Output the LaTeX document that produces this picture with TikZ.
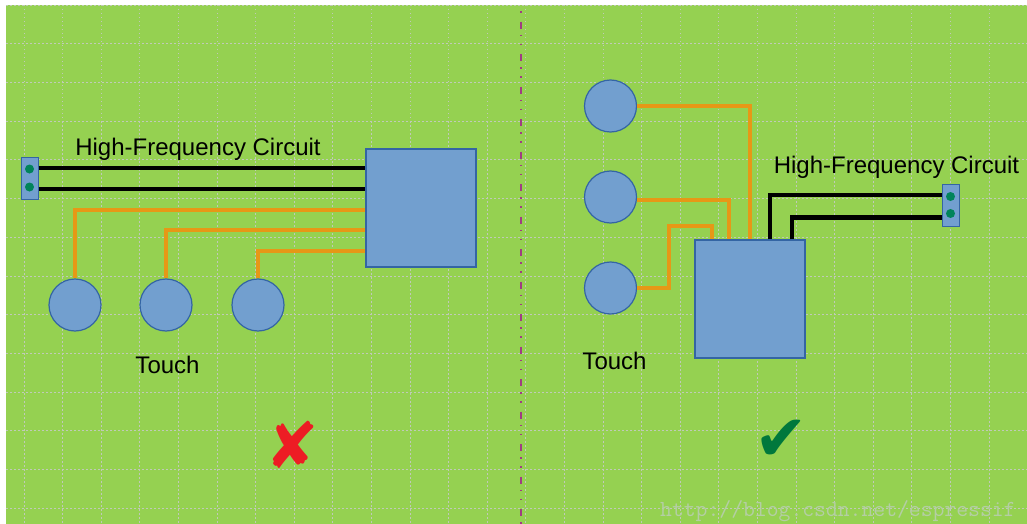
\documentclass[tikz,border=0pt]{standalone}
\usepackage{fontspec}
\setmainfont{Liberation Sans}
\newfontfamily\symfont{DejaVu Sans}
\definecolor{bggreen}{RGB}{149,209,81}
\definecolor{boxfill}{RGB}{114,159,207}
\definecolor{boxline}{RGB}{52,101,164}
\definecolor{wireor}{RGB}{230,152,22}
\definecolor{dotgreen}{RGB}{0,132,90}
\definecolor{gridgray}{RGB}{192,202,184}
\definecolor{divider}{RGB}{160,60,130}
\definecolor{xred}{RGB}{237,28,36}
\definecolor{checkgreen}{RGB}{0,120,60}
\definecolor{wmgray}{RGB}{180,206,164}
\begin{document}
\begin{tikzpicture}[x=1pt,y=-1pt,
  chip/.style={draw=boxline, line width=1.5pt, fill=boxfill, inner sep=0pt, minimum width=110pt, minimum height=118pt},
  pad/.style={circle, draw=boxline, line width=1.2pt, fill=boxfill, minimum size=52pt, inner sep=0pt},
  header/.style={draw=boxline, line width=1pt, fill=boxfill, inner sep=0pt, minimum width=17pt, minimum height=42pt},
  pin/.style={circle, fill=dotgreen, minimum size=9pt, inner sep=0pt},
  hfwire/.style={line width=4.6pt, black},
  touchwire/.style={line width=4pt, wireor},
  gridline/.style={gridgray, line width=0.8pt, dash pattern=on 1.5pt off 2.5pt},
  lbl/.style={font=\fontsize{24}{28}\selectfont, anchor=base, inner sep=0pt},
  verdict/.style={font=\symfont\fontsize{64}{70}\selectfont, inner sep=0pt}]
% background
\fill[white] (0,0) rectangle (1027,524);
\fill[bggreen] (6,5) rectangle (1027,524);
\useasboundingbox (0,0) rectangle (1027,524);
% grid
\foreach \i in {0,...,26} \draw[gridline] ({24+38.6*\i},5) -- ({24+38.6*\i},524);
\foreach \j in {0,...,13} \draw[gridline] (6,{5+38.7*\j}) -- (1027,{5+38.7*\j});
% divider
\draw[divider, line width=1.5pt, dash pattern=on 7pt off 6pt on 1.5pt off 7.5pt on 1.5pt off 9pt, dash phase=15.8pt] (521,5) -- (521,524);
% watermark
\node[font=\ttfamily\fontsize{23}{26}\selectfont, text=wmgray, anchor=base west, inner sep=0pt] (wm) at (660,516) {http://blog.csdn.net/espressif};

% ---------- left (bad) ----------
\node[header] (hl) at (29.5,178.5) {};
\node[pin] (hl1) at (29.5,169) {};
\node[pin] (hl2) at (29.5,187) {};
\node[chip] (cl) at (421,208) {};
\node[pad] (t1) at (75,305) {};
\node[pad] (t2) at (166,305) {};
\node[pad] (t3) at (258,305) {};
\draw[hfwire] (hl.east |- 0,168) -- (cl.west |- 0,168);
\draw[hfwire] (hl.east |- 0,189) -- (cl.west |- 0,189);
\draw[touchwire] (t1.north) |- (cl.west |- 0,209.5);
\draw[touchwire] (t2.north) |- (cl.west |- 0,230);
\draw[touchwire] (t3.north) |- (cl.west |- 0,251);
\node[lbl] (hfl) at (198,155) {High-Frequency Circuit};
\node[lbl] (tl) at (167.5,373) {Touch};
\node[verdict, text=xred] (bad) at (292,445) {✘};

% ---------- right (good) ----------
\node[pad] (r1) at (610.5,106) {};
\node[pad] (r2) at (610.5,197) {};
\node[pad] (r3) at (610.5,288) {};
\node[chip] (cr) at (750,299) {};
\node[header] (hr) at (950.5,205.5) {};
\node[pin] (hr1) at (950.5,196.5) {};
\node[pin] (hr2) at (950.5,213.5) {};
\draw[touchwire] (r1.east) -| (cr.north -| 750,0);
\draw[touchwire] (r2.east |- 0,200) -| (cr.north -| 729,0);
\draw[touchwire] (r3.east) -- (669,288) |- (711.5,226) -- (cr.north -| 711.5,0);
\draw[hfwire] (cr.north -| 770,0) |- (hr.west |- 0,195);
\draw[hfwire] (cr.north -| 792,0) |- (hr.west |- 0,217.5);
\node[lbl] (hfr) at (896.5,173) {High-Frequency Circuit};
\node[lbl] (tr) at (614.5,369) {Touch};
\node[verdict, text=checkgreen] (good) at (781,440) {✔};
\end{tikzpicture}
\end{document}
